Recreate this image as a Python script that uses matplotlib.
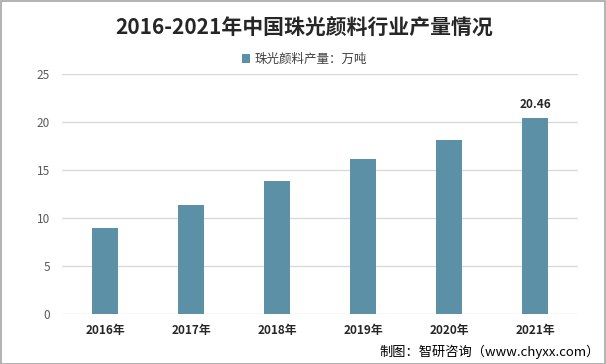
import matplotlib
matplotlib.use("Agg")
import matplotlib.pyplot as plt
from matplotlib.patches import Rectangle

plt.rcParams['font.family'] = ['Noto Sans CJK SC', 'DejaVu Sans']

categories = ["2016年", "2017年", "2018年", "2019年", "2020年", "2021年"]
values = [9.0, 11.4, 13.9, 16.2, 18.1, 20.46]
yticks = [0, 5, 10, 15, 20, 25]
series_name = "珠光颜料产量：万吨"
title = "2016-2021年中国珠光颜料行业产量情况"
source = "制图：智研咨询（www.chyxx.com）"

W, H = 606, 364
fig = plt.figure(figsize=(W/100, H/100), dpi=100)
fig.patch.set_facecolor('white')

ax = fig.add_axes([62/W, 50/H, (578-62)/W, (314-74.3)/H])
x = list(range(len(categories)))
bars = ax.bar(x, values, width=0.31, color='#5C90A7', zorder=3, label=series_name)
ax.set_xlim(-0.5, len(categories)-0.5)
ax.set_ylim(0, 25)
ax.set_yticks(yticks)
ax.set_yticklabels([str(t) for t in yticks], color='#595959', fontsize=8.5)
ax.set_xticks(x)
ax.set_xticklabels(categories, fontsize=8.5, fontweight='bold', color='#262626')
ax.tick_params(axis='both', length=0)
ax.tick_params(axis='y', pad=8.5)
ax.tick_params(axis='x', pad=7)
ax.grid(axis='y', color='#D9D9D9', linewidth=1, zorder=0)
for s in ax.spines.values():
    s.set_visible(False)

ax.annotate(f"{values[-1]:.2f}", (x[-1], values[-1]), xytext=(0, 5), textcoords='offset points',
            ha='center', va='bottom', fontsize=8.5, fontweight='bold', color='#262626')

fig.text(304/W, 1 - 27/H, title, ha='center', va='center', fontsize=15, fontweight='bold', color='#262626')

leg = fig.legend(handles=[bars], labels=[series_name], loc='center', bbox_to_anchor=(304/W, 1 - 59.5/H),
                 frameon=False, fontsize=9, handlelength=0.7, handleheight=0.7, handletextpad=0.3)
for t in leg.get_texts():
    t.set_color('#404040')

fig.text(600/W, 1 - 352/H, source, ha='right', va='center', fontsize=9.5, color='#000000')

fig.add_artist(Rectangle((0.5/W, 0.5/H), 1 - 1.5/W, 1 - 1.5/H, transform=fig.transFigure,
                         fill=False, edgecolor='#A6A6A6', linewidth=1.2))

fig.savefig('out.png', dpi=100)
